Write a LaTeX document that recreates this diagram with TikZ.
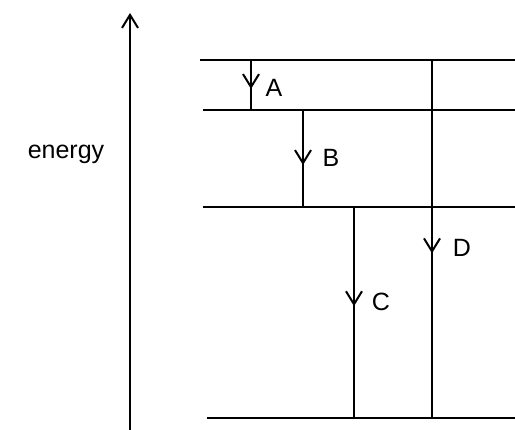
\documentclass[tikz,border=0pt]{standalone}
\usepackage{fontspec}
\setmainfont{Liberation Sans}
\usetikzlibrary{arrows.meta, decorations.markings}

\begin{document}
\begin{tikzpicture}[
    x=1pt, y=-1pt,
    barb/.tip={Straight Barb[length=13pt, width=16pt, line width=2pt]},
    level/.style={line width=2.2pt},
    trans/.style={line width=2.2pt, postaction={decorate}, decoration={markings,
        mark=at position #1 with {\arrow{barb}}}},
    lbl/.style={font=\fontsize{25}{29}\selectfont, inner sep=0pt, anchor=base}
]
    \useasboundingbox (0,0) rectangle (515,430);

    % energy axis
    \coordinate (axbot) at (130,431);
    \coordinate (axtop) at (130,13);
    \draw[line width=2.2pt, -barb] (axbot) -- (axtop);
    \node[lbl] (energy) at (66,159) {energy};

    % levels
    \coordinate (l1w) at (200,60);  \coordinate (l1e) at (515,60);
    \coordinate (l2w) at (203,110); \coordinate (l2e) at (515,110);
    \coordinate (l3w) at (203,207); \coordinate (l3e) at (515,207);
    \coordinate (l4w) at (207,418); \coordinate (l4e) at (515,418);
    \draw[level] (l1w) -- (l1e);
    \draw[level] (l2w) -- (l2e);
    \draw[level] (l3w) -- (l3e);
    \draw[level] (l4w) -- (l4e);

    % transitions
    \coordinate (a1) at (251,60);  \coordinate (a2) at (251,110);
    \coordinate (b1) at (303,110); \coordinate (b2) at (303,207);
    \coordinate (c1) at (354,207); \coordinate (c2) at (354,418);
    \coordinate (d1) at (432,60);  \coordinate (d2) at (432,418);
    \draw[trans=0.58] (a1) -- (a2);
    \draw[trans=0.567] (b1) -- (b2);
    \draw[trans=0.47] (c1) -- (c2);
    \draw[trans=0.54] (d1) -- (d2);

    \node[lbl] (la) at (274,97) {A};
    \node[lbl] (lb) at (331,167) {B};
    \node[lbl] (lc) at (381,311) {C};
    \node[lbl] (ld) at (462,257) {D};
\end{tikzpicture}
\end{document}
